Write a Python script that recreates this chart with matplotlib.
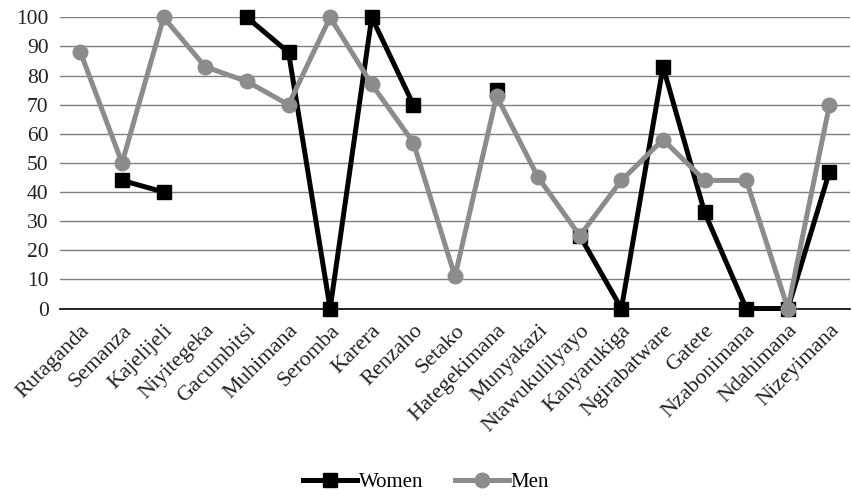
import matplotlib
matplotlib.use("Agg")
import matplotlib.pyplot as plt
import numpy as np

categories = ["Rutaganda", "Semanza", "Kajelijeli", "Niyitegeka", "Gacumbitsi", "Muhimana",
              "Seromba", "Karera", "Renzaho", "Setako", "Hategekimana", "Munyakazi",
              "Ntawukulilyayo", "Kanyarukiga", "Ngirabatware", "Gatete", "Nzabonimana",
              "Ndahimana", "Nizeyimana"]
women = [None, 44, 40, None, 100, 88, 0, 100, 70, None, 75, None, 25, 0, 83, 33, 0, 0, 47]
men = [88, 50, 100, 83, 78, 70, 100, 77, 57, 11, 73, 45, 25, 44, 58, 44, 44, 0, 70]
yticks = [0, 10, 20, 30, 40, 50, 60, 70, 80, 90, 100]

plt.rcParams['font.family'] = ['Liberation Serif', 'DejaVu Serif']

fig = plt.figure(figsize=(8.52, 4.96), dpi=100)
ax = fig.add_axes([0.07, 0.378, 0.928, 0.587])

x = np.arange(len(categories))
w = np.array([np.nan if v is None else v for v in women], dtype=float)
m = np.array(men, dtype=float)

ax.plot(x, w, color='black', lw=3.6, marker='s', ms=10, label='Women', zorder=3)
ax.plot(x, m, color='#8c8c8c', lw=3.6, marker='o', ms=10.5, label='Men', zorder=4)

ax.set_xlim(-0.5, len(categories) - 0.5)
ax.set_ylim(0, 100)
ax.set_yticks(yticks)
ax.set_xticks(x)
ax.set_xticklabels(categories, rotation=45, ha='right', rotation_mode='anchor', fontsize=16, color='#222222')
ax.tick_params(axis='y', labelsize=15.5, colors='#222222', length=0, pad=8)
ax.tick_params(axis='x', length=0, pad=9)
ax.grid(axis='y', color='#7f7f7f', lw=1)
ax.set_axisbelow(True)
for s in ['left', 'right', 'top']:
    ax.spines[s].set_visible(False)
ax.spines['bottom'].set_color('black')
ax.spines['bottom'].set_linewidth(1.2)
ax.spines['bottom'].set_zorder(2)
for ln in ax.lines:
    ln.set_clip_on(False)

fig.legend(loc='lower center', bbox_to_anchor=(0.5, -0.03), ncol=2, frameon=False,
           fontsize=15, handlelength=2.6, columnspacing=1.5, handletextpad=0.1)

fig.savefig('out.png', dpi=100)
